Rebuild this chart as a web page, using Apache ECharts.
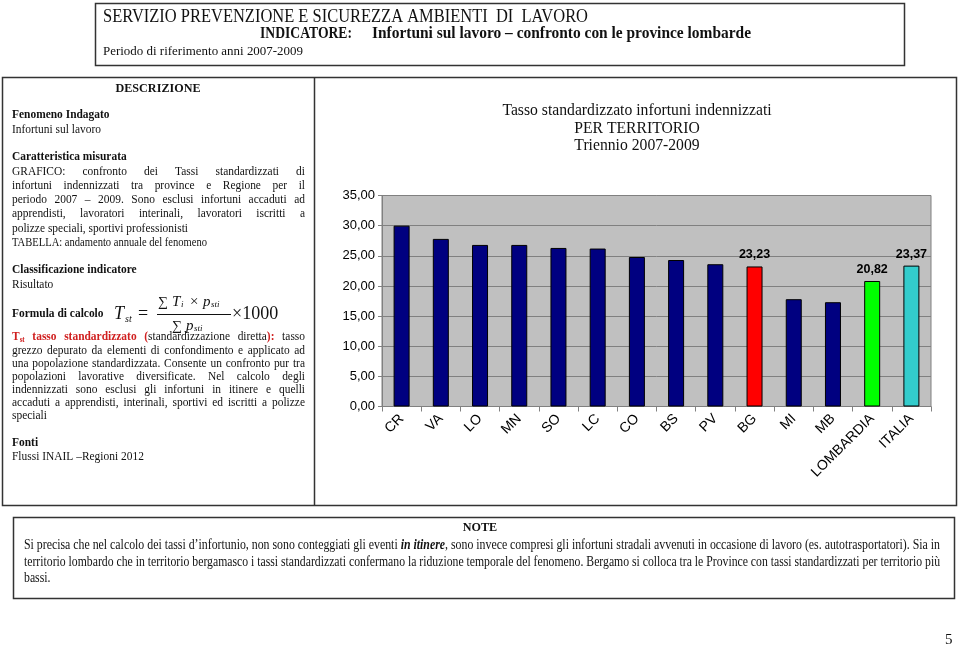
<!DOCTYPE html>
<html><head><meta charset="utf-8">
<script src="https://cdn.jsdelivr.net/npm/echarts@6/dist/echarts.min.js"></script>
<style>html,body{margin:0;padding:0;background:#fff}#c{width:960px;height:649px}</style>
</head><body><div id="c"></div>
<script>
// ---- data ----
const categories = ['CR','VA','LO','MN','SO','LC','CO','BS','PV','BG','MI','MB','LOMBARDIA','ITALIA'];
const values = [30.0, 27.8, 26.8, 26.8, 26.3, 26.2, 24.8, 24.3, 23.6, 23.23, 17.8, 17.3, 20.82, 23.37];
const labelledCats = ['BG','LOMBARDIA','ITALIA'];
const yMin = 0, yMax = 35, yStep = 5;
const chartTitle = ['Tasso standardizzato infortuni indennizzati','PER TERRITORIO','Triennio 2007-2009'];

// ---- helpers ----
const SERIF = '"Liberation Serif","Times New Roman",serif';
const SANS = '"Liberation Sans",Arial,sans-serif';
const ctx = document.createElement('canvas').getContext('2d');
function meas(t, s){
  ctx.font = (s.fst||'normal')+' '+(s.fw||'normal')+' '+s.size+'px '+SERIF;
  return ctx.measureText(t).width;
}
const G = [];
function txt(t, x, y, s, sc){
  G.push({type:'text', x:x, y:y + (s.dy||0), scaleX: sc||1, silent:true, z:10,
    style:{text:t, fontSize:s.size, fontFamily:SERIF, fontWeight:s.fw||'normal', fontStyle:s.fst||'normal',
      fill:s.fill||'#111', align:s.align||'left', textAlign:s.align||'left',
      verticalAlign:'middle', textVerticalAlign:'middle'}});
}
function words(str, s){ return str.split(' ').filter(w=>w.length).map(w=>[Object.assign({t:w}, s)]); }
function line(ws, x0, x1, y, size, scale, justify){
  const wW = ws.map(w=>w.reduce((a,sg)=>a+meas(sg.t, Object.assign({size:size}, sg, {size:sg.size||size}))*scale,0));
  const tot = wW.reduce((a,b)=>a+b,0);
  const sp = meas(' ', {size:size})*scale;
  const gap = justify && ws.length>1 ? (x1-x0-tot)/(ws.length-1) : sp;
  let x = x0;
  ws.forEach((w,i)=>{
    let xx = x;
    w.forEach(sg=>{
      const st = Object.assign({size:size}, sg, {size:sg.size||size});
      txt(sg.t, xx, y, st, scale);
      xx += meas(sg.t, st)*scale;
    });
    x += wW[i] + gap;
  });
}
function fit(str, x0, x1, y, s){
  const w = meas(str, s);
  txt(str, x0, y, s, (x1-x0)/w);
}
function rect(x,y,w,h,lw,col){
  G.push({type:'rect', silent:true, z:5, shape:{x:x,y:y,width:w,height:h}, style:{fill:null, stroke:col||'#333', lineWidth:lw||1.5}});
}
function seg(x1,y1,x2,y2,lw,col){
  G.push({type:'line', silent:true, z:5, shape:{x1:x1,y1:y1,x2:x2,y2:y2}, style:{stroke:col||'#333', lineWidth:lw||1.5}});
}

// ---- frames ----
rect(95.5, 3.5, 809, 62, 1.5);
rect(2.5, 77.5, 954, 428, 1.5);
seg(314.5, 77.5, 314.5, 505.5, 1.5);
rect(13.5, 517.5, 941, 81, 1.5);

// ---- header ----
fit('SERVIZIO PREVENZIONE E SICUREZZA AMBIENTI  DI  LAVORO', 103, 588, 17, {size:18});
fit('INDICATORE:', 260, 352, 34, {size:17, fw:'bold'});
fit('Infortuni sul lavoro \u2013 confronto con le province lombarde', 372, 751, 34, {size:17, fw:'bold'});
fit('Periodo di riferimento anni 2007-2009', 103, 303, 51, {size:13.5});

// ---- left panel ----
const L0 = 12, L1 = 305, SC = 0.88, FZ = 13;
const B = {fw:'bold'};
txt('DESCRIZIONE', 158, 89, {size:13.5, fw:'bold', align:'center'}, 0.9);
line(words('Fenomeno Indagato', B), L0, L1, 115, FZ, SC, false);
line(words('Infortuni sul lavoro', {}), L0, L1, 130, FZ, SC, false);
line(words('Caratteristica misurata', B), L0, L1, 157, FZ, SC, false);
line(words('GRAFICO: confronto dei Tassi standardizzati di', {}), L0, L1, 172, FZ, SC, true);
line(words('infortuni indennizzati tra province e Regione per il', {}), L0, L1, 186, FZ, SC, true);
line(words('periodo 2007 \u2013 2009.  Sono esclusi infortuni accaduti ad', {}), L0, L1, 200, FZ, SC, true);
line(words('apprendisti, lavoratori interinali, lavoratori iscritti a', {}), L0, L1, 214, FZ, SC, true);
line(words('polizze speciali, sportivi professionisti', {}), L0, L1, 229, FZ, SC, false);
line(words('TABELLA: andamento annuale del fenomeno', {}), L0, L1, 243, 12, SC, false);
line(words('Classificazione indicatore', B), L0, L1, 270, FZ, SC, false);
line(words('Risultato', {}), L0, L1, 285, FZ, SC, false);
// formula
line(words('Formula  di calcolo', B), L0, L1, 314, FZ, SC, false);
txt('T', 114, 314, {size:18, fst:'italic'});
txt('st', 125, 319, {size:10, fst:'italic'});
txt('=', 138, 314, {size:18});
txt('\u2211', 158, 302, {size:14});
txt('T', 172, 302, {size:15, fst:'italic'});
txt('i', 181, 305, {size:9, fst:'italic'});
txt('\u00d7', 190, 302, {size:15});
txt('p', 203, 302, {size:15, fst:'italic'});
txt('sti', 211, 305, {size:9, fst:'italic'});
seg(157, 314.5, 231, 314.5, 1, '#111');
txt('\u2211', 172, 326, {size:14});
txt('p', 186, 326, {size:15, fst:'italic'});
txt('sti', 194, 329, {size:9, fst:'italic'});
txt('\u00d71000', 232, 314, {size:18});
// definition
const R = {fw:'bold', fill:'#d02020'};
line([
  [{t:'T', fw:'bold', fill:'#d02020'},{t:'st', fw:'bold', fill:'#d02020', size:8, dy:3}],
  [Object.assign({t:'tasso'},R)], [Object.assign({t:'standardizzato'},R)],
  [Object.assign({t:'('},R),{t:'standardizzazione'}],
  [{t:'diretta'},Object.assign({t:')'},R),Object.assign({t:':'},R)],
  [{t:'tasso'}]
], L0, L1, 337, FZ, SC, true);
const defLines = [
  'grezzo depurato da elementi di confondimento e applicato ad',
  'una popolazione standardizzata. Consente un confronto pur tra',
  'popolazioni lavorative diversificate. Nel calcolo degli',
  'indennizzati sono esclusi gli infortuni in itinere e quelli',
  'accaduti a apprendisti, interinali, sportivi ed iscritti a polizze'
];
defLines.forEach((s,i)=>line(words(s,{}), L0, L1, 351 + i*13, FZ, SC, true));
line(words('speciali', {}), L0, L1, 351 + 5*13, FZ, SC, false);
line(words('Fonti', B), L0, L1, 443, FZ, SC, false);
line(words('Flussi  INAIL \u2013Regioni  2012', {}), L0, L1, 457, FZ, SC, false);

// ---- chart title ----
chartTitle.forEach((t,i)=>txt(t, 637, 111 + i*17.5, {size:16.5, align:'center'}, 0.95));

// ---- notes ----
txt('NOTE', 480, 528, {size:13.5, fw:'bold', align:'center'}, 0.9);
const n1 = words("Si precisa che nel calcolo dei tassi d\u2019infortunio, non sono conteggiati gli eventi", {})
  .concat([[{t:'in', fw:'bold', fst:'italic'}], [{t:'itinere', fw:'bold', fst:'italic'},{t:','}]])
  .concat(words('sono invece compresi gli infortuni stradali avvenuti in occasione di lavoro (es. autotrasportatori). Sia in', {}));
const n2 = words('territorio lombardo che in territorio bergamasco i tassi standardizzati confermano la riduzione temporale del fenomeno. Bergamo si colloca tra le Province con tassi standardizzati per territorio pi\u00f9', {});
function natW(ws, size){ return ws.reduce((a,w)=>a+w.reduce((b,sg)=>b+meas(sg.t, Object.assign({size:size},sg)),0),0) + meas(' ',{size:size})*(ws.length-1); }
const NZ = 14;
const sc1 = 916/natW(n1, NZ), sc2 = 916/natW(n2, NZ);
line(n1, 24, 940, 545, NZ, sc1, true);
line(n2, 24, 940, 562, NZ, sc2, true);
line(words('bassi.', {}), 24, 940, 578, NZ, (sc1+sc2)/2, false);
txt('5', 945, 640, {size:15}, 1);

// ---- chart ----
const colorFor = c => c==='BG' ? '#FF0000' : c==='LOMBARDIA' ? '#00FF00' : c==='ITALIA' ? '#33CCCC' : '#000080';
const fmt = v => v.toFixed(2).replace('.', ',');
const chart = echarts.init(document.getElementById('c'), null, {renderer:'canvas'});
chart.setOption({
  animation:false,
  backgroundColor:'#fff',
  grid:{left:382, right:29, top:195.5, bottom:242.5, show:true, backgroundColor:'#C0C0C0', borderColor:'#808080', borderWidth:1},
  xAxis:{type:'category', data:categories,
    axisLine:{lineStyle:{color:'#808080', width:1}},
    axisTick:{show:true, length:5, lineStyle:{color:'#808080'}},
    axisLabel:{rotate:45, interval:0, fontFamily:SANS, fontSize:14, color:'#000', margin:10}},
  yAxis:{type:'value', min:yMin, max:yMax, interval:yStep,
    axisLine:{show:true, lineStyle:{color:'#808080'}},
    axisTick:{show:true, length:4, lineStyle:{color:'#808080'}},
    splitLine:{lineStyle:{color:'#808080', width:1}},
    axisLabel:{formatter:fmt, fontFamily:SANS, fontSize:13, color:'#000', margin:7}},
  series:[{type:'bar', barWidth:16,
    data: categories.map((c,i)=>({value:values[i],
      itemStyle:{color:colorFor(c), borderColor:'#000', borderWidth:1},
      label:{show: labelledCats.includes(c)}})),
    label:{position:'top', distance:5, formatter:p=>fmt(p.value), fontFamily:SANS, fontSize:12.5, fontWeight:'bold', color:'#000'}}],
  graphic: G
});
</script></body></html>
